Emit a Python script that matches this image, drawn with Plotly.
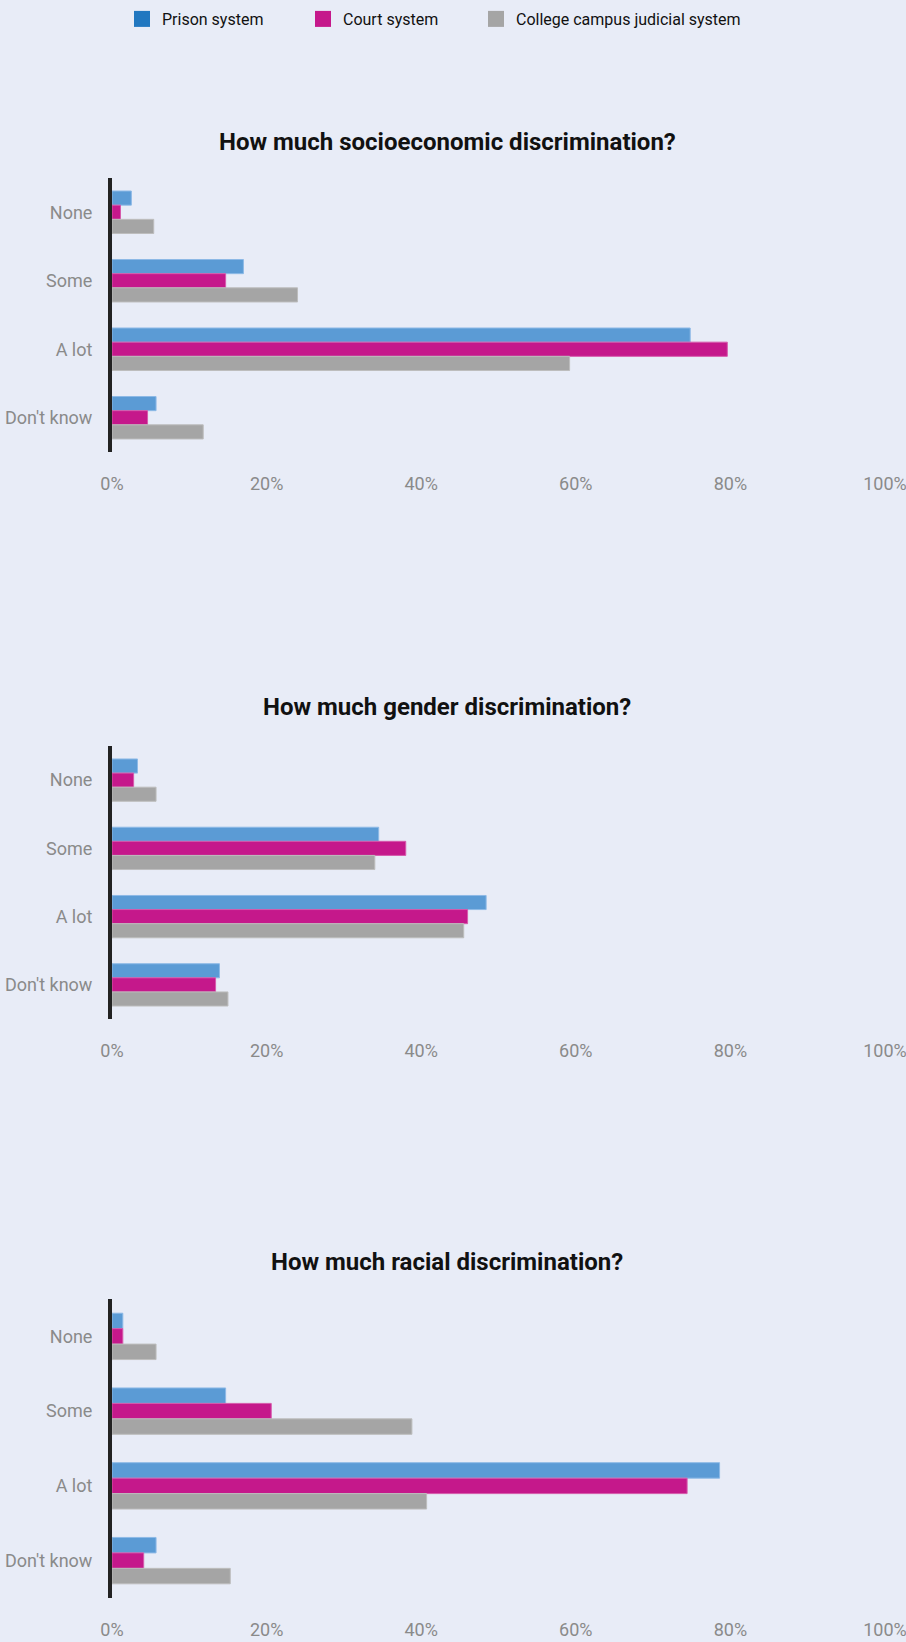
import plotly.graph_objects as go

categories = ["None", "Some", "A lot", "Don't know"]
series_names = ["Prison system", "Court system", "College campus judicial system"]

socio_prison = [2.5, 17.0, 74.8, 5.7]
socio_court = [1.1, 14.7, 79.6, 4.6]
socio_college = [5.4, 24.0, 59.2, 11.8]

gender_prison = [3.3, 34.5, 48.4, 13.9]
gender_court = [2.8, 38.0, 46.0, 13.4]
gender_college = [5.7, 34.0, 45.5, 15.0]

racial_prison = [1.4, 14.7, 78.6, 5.7]
racial_court = [1.4, 20.6, 74.4, 4.1]
racial_college = [5.7, 38.8, 40.7, 15.3]

titles = ["How much socioeconomic discrimination?",
          "How much gender discrimination?",
          "How much racial discrimination?"]

tick_vals = [0, 20, 40, 60, 80, 100]
tick_text = ["0%", "20%", "40%", "60%", "80%", "100%"]

bar_colors = ["#5b9bd5", "#c5188b", "#a5a5a5"]
bar_line_colors = ["#8db9e6", "#d65aab", "#bdbdbd"]
legend_colors = ["#2177c0", "#c5188b", "#a5a5a5"]

BG = "#e8ecf7"
W, H = 906, 1642
FONT = "Roboto, Lato, sans-serif"

panels = [
    (socio_prison, socio_court, socio_college),
    (gender_prison, gender_court, gender_college),
    (racial_prison, racial_court, racial_college),
]
# plot area pixel extents (top, bottom) and title y
plot_px = [(178, 452), (746, 1019), (1299, 1598)]
title_px = [142, 707, 1262]
legend_x_px = [122, 303, 476]

fig = go.Figure()

for i, data in enumerate(panels):
    suffix = "" if i == 0 else str(i + 1)
    for j, vals in enumerate(data):
        fig.add_trace(go.Bar(
            x=vals, y=categories, orientation="h",
            name=series_names[j],
            marker=dict(color=bar_colors[j], line=dict(color=bar_line_colors[j], width=1)),
            xaxis="x" + suffix, yaxis="y" + suffix,
            showlegend=False, hoverinfo="x+y",
        ))

# legend entries, one legend per series so each can be placed
for j in range(3):
    fig.add_trace(go.Scatter(
        x=[None], y=[None], mode="markers", name=series_names[j],
        marker=dict(symbol="square", size=18, color=legend_colors[j]),
        showlegend=True, legend="legend" if j == 0 else "legend%d" % (j + 1),
    ))

x0, x1 = 112 / W, 885 / W
layout = dict(
    width=W, height=H,
    paper_bgcolor=BG, plot_bgcolor=BG,
    margin=dict(l=0, r=0, t=0, b=0),
    barmode="group", bargap=0.38, bargroupgap=0,
    showlegend=True,
    annotations=[],
)
for j in range(3):
    key = "legend" if j == 0 else "legend%d" % (j + 1)
    layout[key] = dict(orientation="h", x=legend_x_px[j] / W, xanchor="left",
                       y=1 - 2 / H, yanchor="top",
                       font=dict(family=FONT, size=16, color="#111"),
                       bgcolor="rgba(0,0,0,0)", itemsizing="trace")

for i in range(3):
    suffix = "" if i == 0 else str(i + 1)
    top, bot = plot_px[i]
    layout["xaxis" + suffix] = dict(
        domain=[x0, x1], range=[0, 100], anchor="y" + suffix,
        tickvals=tick_vals, ticktext=tick_text, showgrid=False, zeroline=False,
        showline=False, ticks="", ticklabelstandoff=19, automargin=False,
        ticklabeloverflow="allow",
        tickfont=dict(family=FONT, size=18, color="#8a8a8a"), fixedrange=True,
    )
    layout["yaxis" + suffix] = dict(
        domain=[1 - bot / H, 1 - top / H], anchor="x" + suffix,
        autorange="reversed", showgrid=False, zeroline=False,
        showline=True, linewidth=4, linecolor="#222222", ticks="",
        ticklabelstandoff=12, automargin=False,
        tickfont=dict(family=FONT, size=18, color="#8a8a8a"), fixedrange=True,
    )
    layout["annotations"].append(dict(
        text="<b>" + titles[i] + "</b>", x=447 / W, y=1 - title_px[i] / H,
        xref="paper", yref="paper", xanchor="center", yanchor="middle",
        showarrow=False, font=dict(family=FONT, size=24, color="#111"),
    ))

fig.update_layout(**layout)
fig.write_html("out.html", config={"displayModeBar": False},
               post_script="document.body.style.margin='0';document.body.style.background='%s';" % BG)
